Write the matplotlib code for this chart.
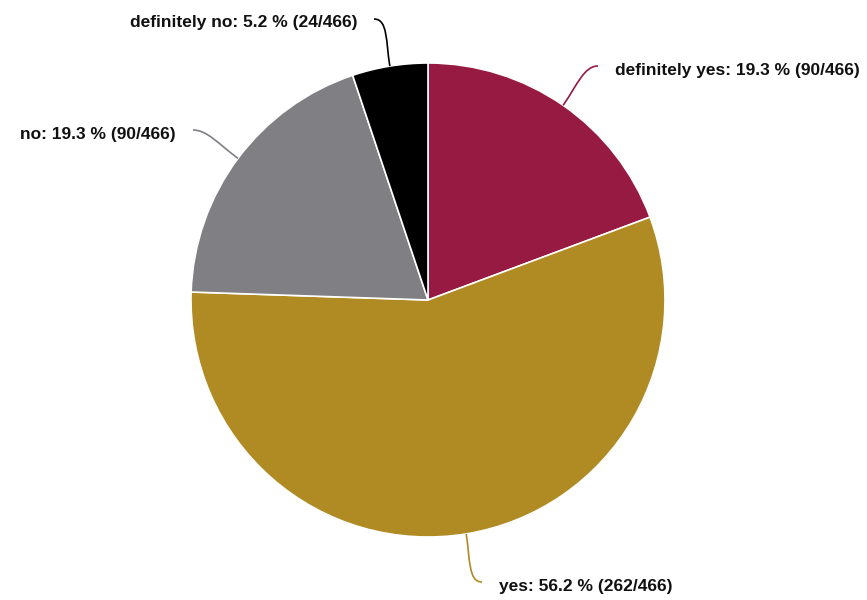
import numpy as np
import matplotlib.pyplot as plt
from matplotlib.path import Path
from matplotlib.patches import PathPatch

plt.rcParams['font.family'] = ['Liberation Sans', 'DejaVu Sans']

# data
labels = ['definitely yes', 'yes', 'no', 'definitely no']
counts = [90, 262, 90, 24]
colors = ['#961a42', '#b08a22', '#7f7f84', '#000000']

total = sum(counts)

# layout (pixel coords, y measured from bottom)
W, H = 867, 600
cx, cy, R = 428, 300, 237
label_end = [(598, 534), (482, 18), (193, 470), (374, 581)]
label_side = ['left', 'left', 'right', 'right']
label_gap = 17

fig = plt.figure(figsize=(W / 100, H / 100), dpi=100)
ax = fig.add_axes([0, 0, 1, 1])
ax.set_xlim(0, W)
ax.set_ylim(0, H)
ax.axis('off')

ax.pie(counts, colors=colors, startangle=90, counterclock=False,
       center=(cx, cy), radius=R,
       wedgeprops=dict(edgecolor='white', linewidth=1.2))
ax.set_xlim(0, W)
ax.set_ylim(0, H)
ax.set_aspect('equal')

cum = 0
for lab, c, col, end, side in zip(labels, counts, colors, label_end, label_side):
    mid = (cum + c / 2) / total * 2 * np.pi
    cum += c
    dx, dy = np.sin(mid), np.cos(mid)
    p0 = (cx + R * dx, cy + R * dy)
    p1 = (cx + (R + 25) * dx, cy + (R + 25) * dy)
    sgn = 1 if side == 'left' else -1
    p3 = end
    p2 = (end[0] - sgn * 14, end[1])
    path = Path([p0, p1, p2, p3], [Path.MOVETO, Path.CURVE4, Path.CURVE4, Path.CURVE4])
    ax.add_patch(PathPatch(path, facecolor='none', edgecolor=col, linewidth=1.2))
    txt = '%s: %.1f %% (%d/%d)' % (lab, c / total * 100, c, total)
    ty = end[1] - 4
    ax.text(end[0] + sgn * label_gap, ty, txt, ha=side, va='center',
            fontsize=12.5, fontweight='bold', color='#111111')

fig.savefig('out.png', dpi=100)
